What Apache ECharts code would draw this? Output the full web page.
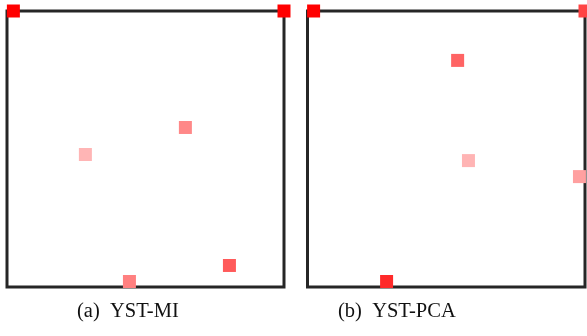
<!DOCTYPE html>
<html>
<head>
<meta charset="utf-8">
<script src="https://cdn.jsdelivr.net/npm/echarts@6/dist/echarts.min.js"></script>
<style>
  html, body { margin: 0; padding: 0; background: #fff; }
  #chart { width: 587px; height: 336px; }
</style>
</head>
<body>
<div id="chart"></div>
<script>
// Panel captions
const captions = ['(a)  YST-MI', '(b)  YST-PCA'];

// Node positions in the unit square, and their weights (0 = white, 1 = full red)
const miX = [0.023, 1.0, 0.644, 0.283, 0.803, 0.442];
const miY = [1.0, 1.0, 0.578, 0.480, 0.078, 0.020];
const miW = [1.0, 1.0, 0.467, 0.290, 0.647, 0.498];

const pcaX = [0.022, 1.0, 0.541, 0.580, 0.980, 0.285];
const pcaY = [1.0, 1.0, 0.821, 0.458, 0.400, 0.020];
const pcaW = [1.0, 0.733, 0.608, 0.294, 0.373, 0.835];

const toPoints = (xs, ys, ws) => xs.map((x, i) => [x, ys[i], ws[i]]);

const chart = echarts.init(document.getElementById('chart'), null, { renderer: 'canvas' });

const gridStyle = { show: true, borderColor: '#262626', borderWidth: 3, backgroundColor: '#fff' };
const hiddenAxis = (gi) => ({
  gridIndex: gi, type: 'value', min: 0, max: 1, show: false
});
const scatter = (gi, data) => ({
  type: 'scatter', xAxisIndex: gi, yAxisIndex: gi,
  symbol: 'rect', symbolSize: 13, clip: false,
  itemStyle: { opacity: 1 },
  emphasis: { disabled: true }, silent: true,
  data
});

const captionFont = '20.5px "Liberation Serif", "DejaVu Serif", serif';

chart.setOption({
  animation: false,
  backgroundColor: '#fff',
  grid: [
    Object.assign({ left: 7, top: 11, width: 277, height: 276 }, gridStyle),
    Object.assign({ left: 307.5, top: 11, width: 277.5, height: 276 }, gridStyle)
  ],
  xAxis: [hiddenAxis(0), hiddenAxis(1)],
  yAxis: [hiddenAxis(0), hiddenAxis(1)],
  visualMap: {
    show: false, type: 'continuous', dimension: 2, min: 0, max: 1,
    seriesIndex: [0, 1],
    inRange: { color: ['#ffffff', '#ff0000'] }
  },
  series: [
    scatter(0, toPoints(miX, miY, miW)),
    scatter(1, toPoints(pcaX, pcaY, pcaW))
  ],
  graphic: [
    { type: 'text', x: 77, y: 312, style: { text: captions[0], font: captionFont, fill: '#111', verticalAlign: 'middle' } },
    { type: 'text', x: 338, y: 312, style: { text: captions[1], font: captionFont, fill: '#111', verticalAlign: 'middle' } }
  ]
});
</script>
</body>
</html>
